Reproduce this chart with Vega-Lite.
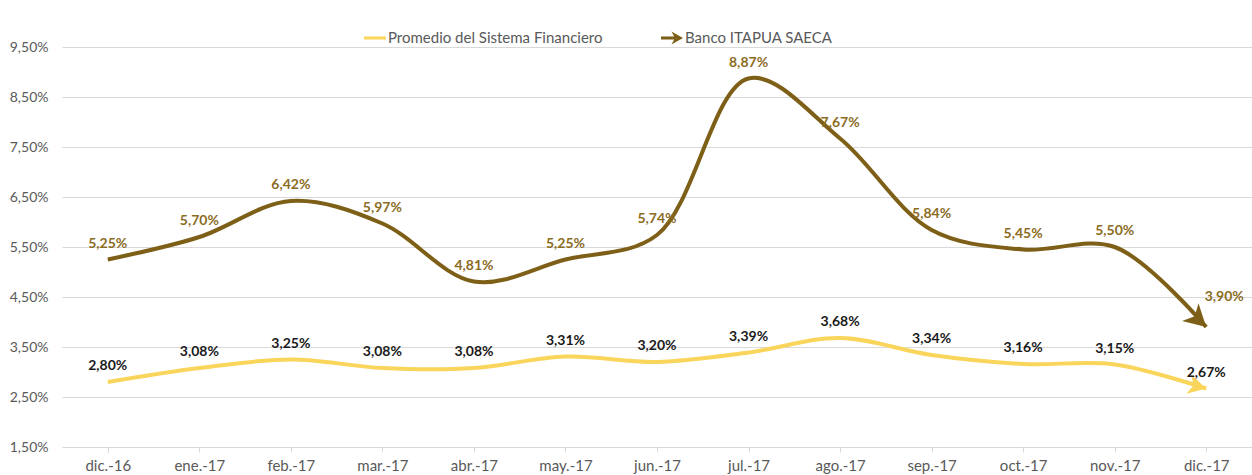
{
  "$schema": "https://vega.github.io/schema/vega-lite/v6.json",
  "autosize": {"type": "none"},
  "padding": {"left": 62, "top": 47, "right": 0, "bottom": 28},
  "width": 1190,
  "height": 400,
  "background": "white",
  "config": {
    "locale": {"number": {"decimal": ",", "thousands": ".", "grouping": [3], "currency": ["", "€"]}},
    "view": {"stroke": null},
    "font": "Lato"
  },
  "data": {"values": [
    {"month": "dic.-16", "series": "Banco ITAPUA SAECA", "value": 0.0525},
    {"month": "ene.-17", "series": "Banco ITAPUA SAECA", "value": 0.0570},
    {"month": "feb.-17", "series": "Banco ITAPUA SAECA", "value": 0.0642},
    {"month": "mar.-17", "series": "Banco ITAPUA SAECA", "value": 0.0597},
    {"month": "abr.-17", "series": "Banco ITAPUA SAECA", "value": 0.0481},
    {"month": "may.-17", "series": "Banco ITAPUA SAECA", "value": 0.0525},
    {"month": "jun.-17", "series": "Banco ITAPUA SAECA", "value": 0.0574},
    {"month": "jul.-17", "series": "Banco ITAPUA SAECA", "value": 0.0887},
    {"month": "ago.-17", "series": "Banco ITAPUA SAECA", "value": 0.0767},
    {"month": "sep.-17", "series": "Banco ITAPUA SAECA", "value": 0.0584},
    {"month": "oct.-17", "series": "Banco ITAPUA SAECA", "value": 0.0545},
    {"month": "nov.-17", "series": "Banco ITAPUA SAECA", "value": 0.0550},
    {"month": "dic.-17", "series": "Banco ITAPUA SAECA", "value": 0.0390},
    {"month": "dic.-16", "series": "Promedio del Sistema Financiero", "value": 0.0280},
    {"month": "ene.-17", "series": "Promedio del Sistema Financiero", "value": 0.0308},
    {"month": "feb.-17", "series": "Promedio del Sistema Financiero", "value": 0.0325},
    {"month": "mar.-17", "series": "Promedio del Sistema Financiero", "value": 0.0308},
    {"month": "abr.-17", "series": "Promedio del Sistema Financiero", "value": 0.0308},
    {"month": "may.-17", "series": "Promedio del Sistema Financiero", "value": 0.0331},
    {"month": "jun.-17", "series": "Promedio del Sistema Financiero", "value": 0.0320},
    {"month": "jul.-17", "series": "Promedio del Sistema Financiero", "value": 0.0339},
    {"month": "ago.-17", "series": "Promedio del Sistema Financiero", "value": 0.0368},
    {"month": "sep.-17", "series": "Promedio del Sistema Financiero", "value": 0.0334},
    {"month": "oct.-17", "series": "Promedio del Sistema Financiero", "value": 0.0316},
    {"month": "nov.-17", "series": "Promedio del Sistema Financiero", "value": 0.0315},
    {"month": "dic.-17", "series": "Promedio del Sistema Financiero", "value": 0.0267}
  ]},
  "encoding": {
    "x": {
      "field": "month", "type": "ordinal", "sort": null,
      "scale": {"type": "point", "padding": 0.5},
      "axis": {
        "title": null, "labelAngle": 0, "labelFontSize": 15, "labelColor": "#595959",
        "labelFont": "Lato", "domainColor": "#d9d9d9", "tickColor": "#d9d9d9",
        "tickSize": 5, "tickBand": "extent", "labelPadding": 6, "grid": false
      }
    },
    "y": {
      "field": "value", "type": "quantitative",
      "scale": {"domain": [0.015, 0.095], "nice": false, "zero": false},
      "axis": {
        "title": null, "format": ".2%", "values": [0.015, 0.025, 0.035, 0.045, 0.055, 0.065, 0.075, 0.085, 0.095],
        "labelFontSize": 14, "labelColor": "#595959", "labelFont": "Lato",
        "domain": false, "ticks": false, "labelPadding": 14,
        "gridColor": "#d9d9d9", "gridWidth": 1
      }
    }
  },
  "layer": [
    {
      "mark": {"type": "line", "interpolate": "catmull-rom", "strokeWidth": 4},
      "encoding": {
        "color": {
          "field": "series", "type": "nominal",
          "scale": {"domain": ["Promedio del Sistema Financiero", "Banco ITAPUA SAECA"], "range": ["#fad55c", "#7d5f17"]},
          "legend": {
            "title": null, "orient": "none", "legendX": 302, "legendY": -20, "direction": "horizontal",
            "labelFontSize": 15, "labelColor": "#595959", "labelFont": "Lato", "symbolSize": 484, "labelLimit": 400,
            "symbolOpacity": 1, "columnPadding": 58, "labelOffset": 2, "symbolStrokeWidth": 0
          }
        }
      }
    },
    {
      "mark": {"type": "point", "filled": true, "opacity": 0, "size": 1},
      "encoding": {
        "color": {
          "field": "series", "type": "nominal",
          "scale": {"domain": ["Promedio del Sistema Financiero", "Banco ITAPUA SAECA"], "range": ["#fad55c", "#7d5f17"]},
          "legend": {
            "title": null, "orient": "none", "legendX": 302, "legendY": -20, "direction": "horizontal",
            "labelFontSize": 15, "labelColor": "#595959", "labelFont": "Lato", "symbolSize": 484, "labelLimit": 400,
            "symbolOpacity": 1, "columnPadding": 58, "labelOffset": 2, "symbolStrokeWidth": 0
          }
        },
        "shape": {
          "field": "series", "type": "nominal",
          "scale": {"domain": ["Promedio del Sistema Financiero", "Banco ITAPUA SAECA"],
                    "range": ["M-1,-0.14L1,-0.14L1,0.14L-1,0.14Z", "M-1,-0.13L0.2,-0.13L-0.05,-0.6L1,0L-0.05,0.6L0.2,0.13L-1,0.13Z"]},
          "legend": {
            "title": null, "orient": "none", "legendX": 302, "legendY": -20, "direction": "horizontal",
            "labelFontSize": 15, "labelColor": "#595959", "labelFont": "Lato", "symbolSize": 484, "labelLimit": 400,
            "symbolOpacity": 1, "columnPadding": 58, "labelOffset": 2, "symbolStrokeWidth": 0
          }
        }
      }
    },
    {
      "transform": [{"filter": "datum.month === 'dic.-17' && datum.series === 'Banco ITAPUA SAECA'"}],
      "mark": {"type": "point", "filled": true, "opacity": 1, "color": "#7d5f17", "size": 1900, "angle": 43,
               "shape": "M0,0L-1,-0.55L-0.72,0L-1,0.55Z"}
    },
    {
      "transform": [{"filter": "datum.month === 'dic.-17' && datum.series === 'Promedio del Sistema Financiero'"}],
      "mark": {"type": "point", "filled": true, "opacity": 1, "color": "#fad55c", "size": 1300, "angle": 14,
               "shape": "M0,0L-1,-0.55L-0.72,0L-1,0.55Z"}
    },
    {
      "transform": [{"filter": "datum.series === 'Banco ITAPUA SAECA' && datum.month !== 'dic.-17'"}],
      "mark": {"type": "text", "dy": -16, "fontSize": 14, "fontWeight": "bold", "color": "#8b6c1f", "font": "Lato"},
      "encoding": {"text": {"field": "value", "type": "quantitative", "format": ".2%"}}
    },
    {
      "transform": [{"filter": "datum.series === 'Banco ITAPUA SAECA' && datum.month === 'dic.-17'"}],
      "mark": {"type": "text", "dx": 18, "dy": -30, "fontSize": 14, "fontWeight": "bold", "color": "#8b6c1f", "font": "Lato"},
      "encoding": {"text": {"field": "value", "type": "quantitative", "format": ".2%"}}
    },
    {
      "transform": [{"filter": "datum.series === 'Promedio del Sistema Financiero'"}],
      "mark": {"type": "text", "dy": -16, "fontSize": 14, "fontWeight": "bold", "color": "#1a1a1a", "font": "Lato"},
      "encoding": {"text": {"field": "value", "type": "quantitative", "format": ".2%"}}
    }
  ]
}
